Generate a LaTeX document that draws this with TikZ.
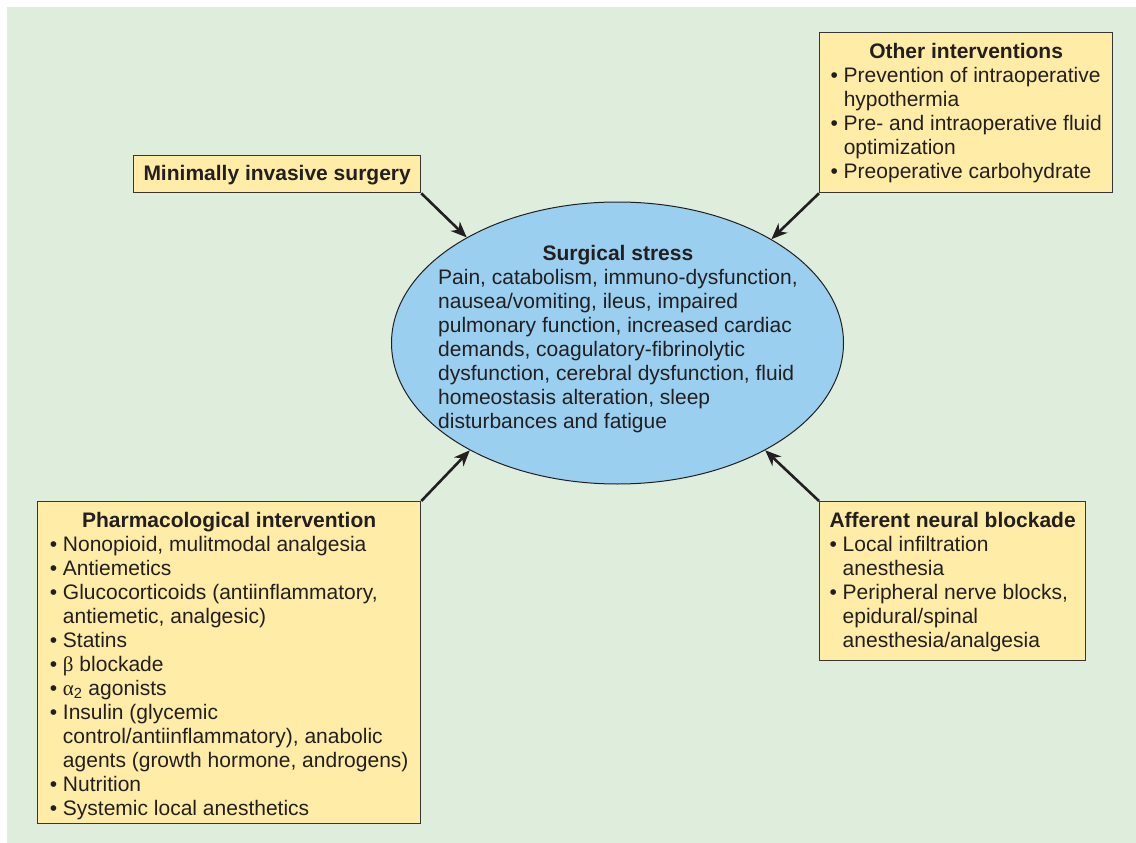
\documentclass[tikz,border=0pt]{standalone}
\usepackage{fontspec}
\setmainfont{Liberation Sans}
\newfontfamily\grkfont{Liberation Serif}
\usetikzlibrary{shapes.geometric,arrows.meta}
\definecolor{bggreen}{RGB}{222,237,220}
\definecolor{boxyellow}{RGB}{255,236,166}
\definecolor{ellblue}{RGB}{154,207,239}
\definecolor{inkdark}{RGB}{35,31,32}
\newcommand{\bul}{•\ }
\newcommand{\ind}{\hphantom{•\ }}
\newcommand{\ttl}[1]{\multicolumn{1}{@{}c@{}}{\bfseries #1}}
\tikzset{
  txt/.style={font=\fontsize{21}{24}\selectfont, text=inkdark},
  box/.style={txt, draw=inkdark!90, line width=1.3pt, fill=boxyellow, inner sep=0pt, anchor=north west},
  arr/.style={draw=inkdark, line width=2.6pt, -{Stealth[length=16pt,width=13pt,inset=5pt]}},
}
\begin{document}
\begin{tikzpicture}[x=1pt,y=-1pt]
\useasboundingbox (0,0) rectangle (1136,843);
\fill[white] (0,0) rectangle (1136,843);
\fill[bggreen] (7,7) rectangle (1136,843);

% central ellipse
\node[ellipse, draw=inkdark, line width=1pt, fill=ellblue, minimum width=452pt, minimum height=282pt, inner sep=0pt] (ss) at (617.5,343) {};
\node[txt, inner sep=0pt, anchor=base west] (sst) at (438,260) {\begin{tabular}[t]{@{}l@{}}\ttl{Surgical stress}\\
Pain, catabolism, immuno-dysfunction,\\
nausea/vomiting, ileus, impaired\\
pulmonary function, increased cardiac\\
demands, coagulatory-fibrinolytic\\
dysfunction, cerebral dysfunction, fluid\\
homeostasis alteration, sleep\\
disturbances and fatigue\end{tabular}};

% boxes
\node[box, minimum width=287pt, minimum height=37pt, text height=20.2pt] (mis) at (133,155)
  {\begin{tabular}[t]{@{}c@{}}\bfseries Minimally invasive surgery\end{tabular}};

\node[box, minimum width=293pt, minimum height=160pt, text height=19.2pt] (oth) at (819,32)
  {\begin{tabular}[t]{@{}l@{}}\ttl{Other interventions}\\
  \bul Prevention of intraoperative\\
  \ind hypothermia\\
  \bul Pre- and intraoperative fluid\\
  \ind optimization\\
  \bul Preoperative carbohydrate\end{tabular}};

\node[box, minimum width=383pt, minimum height=322pt, text height=25.2pt] (ph) at (37,501)
  {\begin{tabular}[t]{@{}l@{}}\ttl{Pharmacological intervention}\\
  \bul Nonopioid, mulitmodal analgesia\\
  \bul Antiemetics\\
  \bul Glucocorticoids (antiinflammatory,\\
  \ind antiemetic, analgesic)\\
  \bul Statins\\
  \bul {\grkfont β} blockade\\
  \bul {\grkfont α}\textsubscript{2} agonists\\
  \bul Insulin (glycemic\\
  \ind control/antiinflammatory), anabolic\\
  \ind agents (growth hormone, androgens)\\
  \bul Nutrition\\
  \bul Systemic local anesthetics\end{tabular}};

\node[box, minimum width=266pt, minimum height=159pt, text height=20.2pt] (aff) at (819,501)
  {\begin{tabular}[t]{@{}l@{}}\ttl{Afferent neural blockade}\\
  \bul Local infiltration\\
  \ind anesthesia\\
  \bul Peripheral nerve blocks,\\
  \ind epidural/spinal\\
  \ind anesthesia/analgesia\end{tabular}};

% arrows
\draw[arr] (mis.south east) -- (ss.145);
\draw[arr] (oth.south west) -- (ss.34);
\draw[arr] (ph.north east) -- (ss.216);
\draw[arr] (aff.north west) -- (ss.324);
\end{tikzpicture}
\end{document}
